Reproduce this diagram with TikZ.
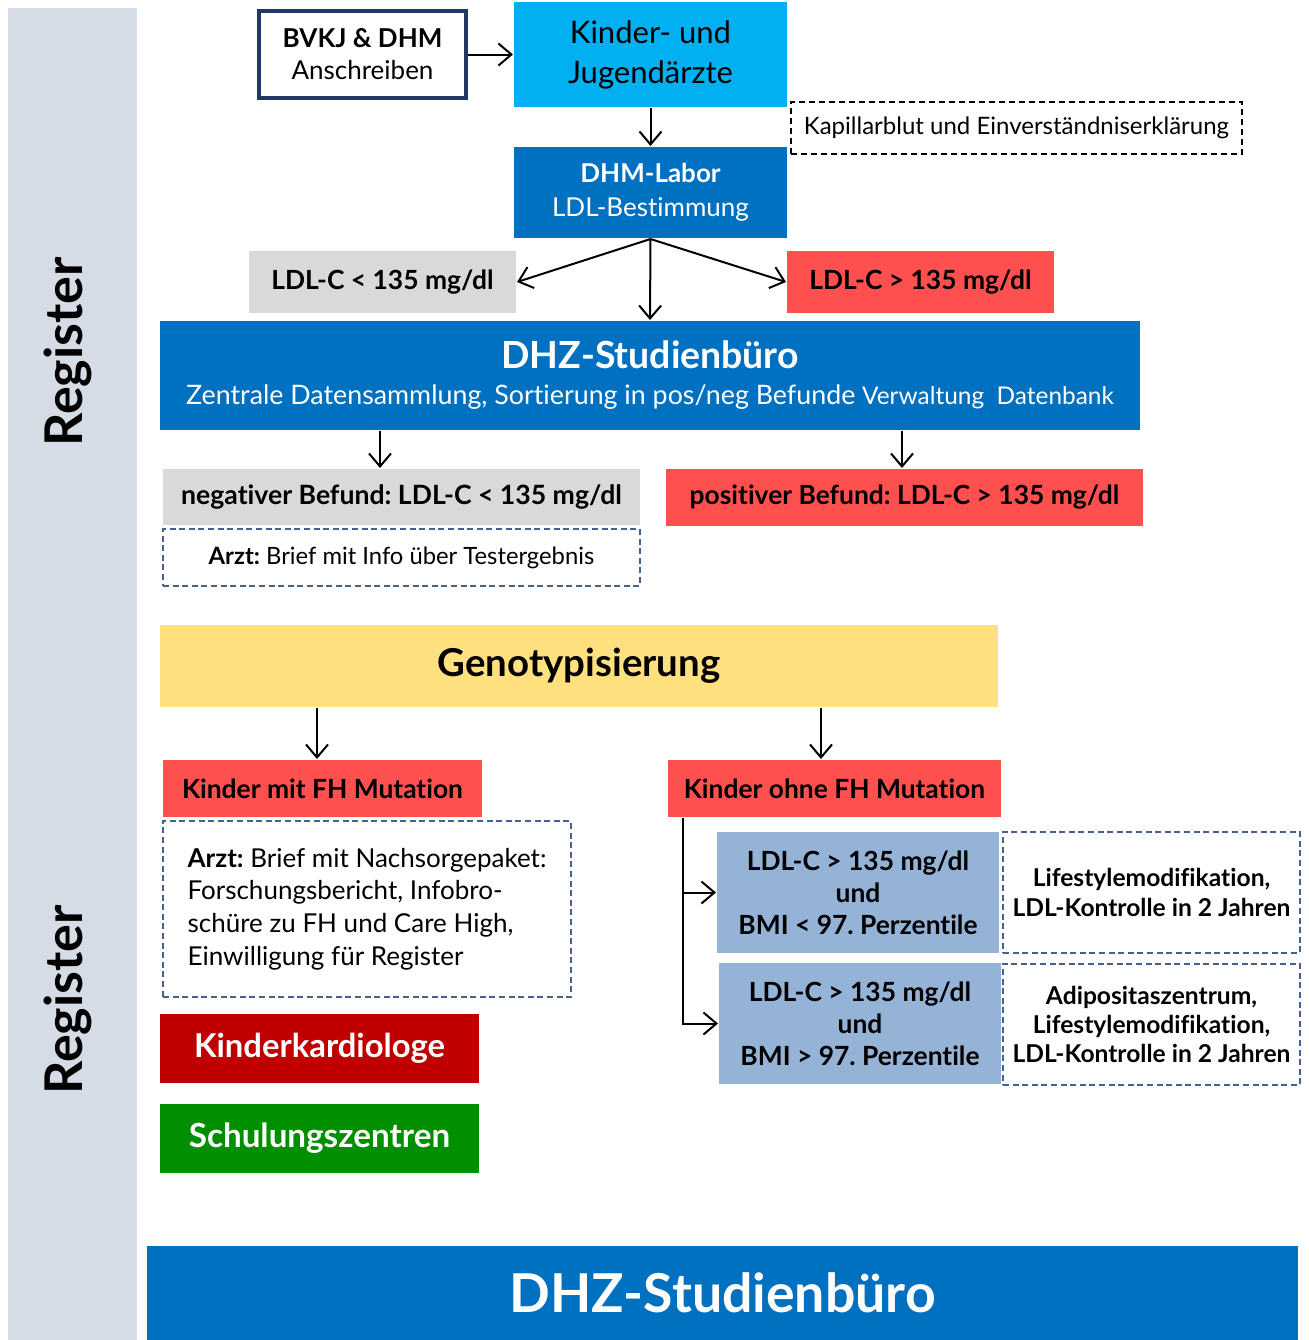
\documentclass[tikz,border=0pt]{standalone}
\usepackage{fontspec}
\setmainfont{Lato}[Ligatures=NoCommon]
\usetikzlibrary{arrows.meta}
\frenchspacing

\definecolor{barGray}{HTML}{D6DCE5}
\definecolor{skyBlue}{HTML}{00B0F0}
\definecolor{dhzBlue}{HTML}{0070C0}
\definecolor{navyLine}{HTML}{1F3864}
\definecolor{resGray}{HTML}{D9D9D9}
\definecolor{alertRed}{HTML}{FF5050}
\definecolor{genoYellow}{HTML}{FFE07F}
\definecolor{cardRed}{HTML}{C00000}
\definecolor{schoolGreen}{HTML}{008F00}
\definecolor{bmiBlue}{HTML}{95B3D7}
\definecolor{dashBlue}{HTML}{44618F}

\newcommand{\fs}[2]{\fontsize{#1}{#2}\selectfont}

\tikzset{
  sz/.style 2 args={minimum width=#1*0.5pt, minimum height=#2*0.5pt},
  flowbox/.style={inner sep=0pt, align=center},
  notebox/.style={flowbox, draw=dashBlue, line width=1pt, dash pattern=on 3pt off 1.8pt},
}

\begin{document}
\begin{tikzpicture}[x=0.5pt, y=-0.5pt, line width=1pt,
  >={Straight Barb[length=6.5pt,width=11pt]}]
  \useasboundingbox (0,0) rectangle (1309,1340);
  % side bar
  \fill[barGray] (8,8) rectangle (137,1340);
  \node[rotate=90, font=\fs{26}{28}\bfseries] (reg1) at (68,352) {Register};
  \node[rotate=90, font=\fs{26}{28}\bfseries] (reg2) at (68,1000) {Register};

  % top part
  \node[flowbox, sz={207}{87}, draw=navyLine, line width=1.6pt, font=\fs{13}{16}] (bvkj) at (362.5,54.5)
    {\textbf{BVKJ \& DHM}\\Anschreiben};
  \node[flowbox, sz={273}{105}, fill=skyBlue, font=\fs{15.5}{20}] (kinder) at (650.5,54.5)
    {Kinder- und\\Jugendärzte};
  \node[flowbox, sz={451}{52}, draw, line width=0.9pt, dash pattern=on 3pt off 2pt, font=\fs{12}{14}] (blut) at (1016.5,128)
    {Kapillarblut und Einverständniserklärung};
  \node[flowbox, sz={273}{91}, fill=dhzBlue, text=white, font=\fs{13}{17}] (labor) at (650.5,192.5)
    {\textbf{DHM-Labor}\\LDL-Bestimmung};
  \node[flowbox, sz={267}{62}, fill=resGray, font=\fs{13.2}{15}\bfseries] (ldlneg) at (382.5,282)
    {LDL-C < 135 mg/dl};
  \node[flowbox, sz={267}{62}, fill=alertRed, font=\fs{13.2}{15}\bfseries] (ldlpos) at (920.5,282)
    {LDL-C > 135 mg/dl};
  \node[flowbox, sz={980}{109}, fill=dhzBlue, text=white, font=\fs{13.4}{18}] (dhz) at (650,375.5)
    {{\fs{18.7}{18}\bfseries DHZ-Studienbüro}\\
     Zentrale Datensammlung, Sortierung in pos/neg Befunde {\fs{12.2}{18}Verwaltung\ \ Datenbank}};

  \draw[->] (bvkj) -- (kinder);
  \draw[->] (kinder) -- (labor);
  \draw[->] (labor.south) -- (ldlneg.east);
  \draw[->] (labor.south) -- (dhz.north);
  \draw[->] (labor.south) -- (ldlpos.west);

  % befunde
  \node[flowbox, sz={477}{56}, fill=resGray, font=\fs{13.3}{15}\bfseries] (neg) at (401.5,497)
    {negativer Befund: LDL-C < 135 mg/dl};
  \node[flowbox, sz={477}{57}, fill=alertRed, font=\fs{13.2}{15}\bfseries] (pos) at (904.5,497.5)
    {positiver Befund: LDL-C > 135 mg/dl};
  \node[notebox, sz={477}{57}, font=\fs{11.9}{14}] (infoneg) at (401.5,557.5)
    {\textbf{Arzt:} Brief mit Info über Testergebnis};
  \draw[->] (dhz.south -| 380,0) -- (neg.north -| 380,0);
  \draw[->] (dhz.south -| 902,0) -- (pos.north -| 902,0);

  % genotypisierung
  \node[flowbox, sz={838}{82}, fill=genoYellow, font=\fs{19.2}{22}\bfseries] (geno) at (579,666)
    {Genotypisierung};
  \node[flowbox, sz={319}{57}, fill=alertRed, font=\fs{13.2}{15}\bfseries] (mitfh) at (322.5,788.5)
    {Kinder mit FH Mutation};
  \node[flowbox, sz={333}{57}, fill=alertRed, font=\fs{13.2}{15}\bfseries] (ohnefh) at (834.5,788.5)
    {Kinder ohne FH Mutation};
  \draw[->] (geno.south -| 317,0) -- (mitfh.north -| 317,0);
  \draw[->] (geno.south -| 821,0) -- (ohnefh.north -| 821,0);

  \node[notebox, sz={408}{176}, align=left, font=\fs{13}{16.4}] (nachsorge) at (367,909)
    {\textbf{Arzt:} Brief mit Nachsorgepaket:\\Forschungsbericht, Infobro-\\schüre zu FH und Care High,\\Einwilligung für Register};
  \node[flowbox, sz={319}{69}, fill=cardRed, text=white, font=\fs{16.4}{18}\bfseries] (kardio) at (319.5,1048.5)
    {Kinderkardiologe};
  \node[flowbox, sz={319}{69}, fill=schoolGreen, text=white, font=\fs{16.6}{18}\bfseries] (schule) at (319.5,1138.5)
    {Schulungszentren};

  \node[flowbox, sz={282}{121}, fill=bmiBlue, font=\fs{13.2}{16}\bfseries] (bmilow) at (858,892.5)
    {LDL-C > 135 mg/dl\\und\\BMI < 97. Perzentile};
  \node[flowbox, sz={282}{121}, fill=bmiBlue, font=\fs{13.2}{16}\bfseries] (bmihigh) at (860,1023.5)
    {LDL-C > 135 mg/dl\\und\\BMI > 97. Perzentile};
  \node[notebox, sz={297}{121}, font=\fs{12.3}{15}\bfseries] (lifestyle) at (1151.5,892.5)
    {Lifestylemodifikation,\\LDL-Kontrolle in 2 Jahren};
  \node[notebox, sz={297}{121}, font=\fs{12.3}{14.6}\bfseries] (adipos) at (1151.5,1024.5)
    {Adipositaszentrum,\\Lifestylemodifikation,\\LDL-Kontrolle in 2 Jahren};
  \draw[->] (ohnefh.south -| 683,0) |- (bmilow.west);
  \draw[->] (ohnefh.south -| 683,0) |- (bmihigh.west);

  % bottom
  \node[flowbox, sz={1151}{94}, fill=dhzBlue, text=white, font=\fs{26.8}{30}\bfseries] (dhzfoot) at (722.5,1293)
    {DHZ-Studienbüro};
\end{tikzpicture}
\end{document}
